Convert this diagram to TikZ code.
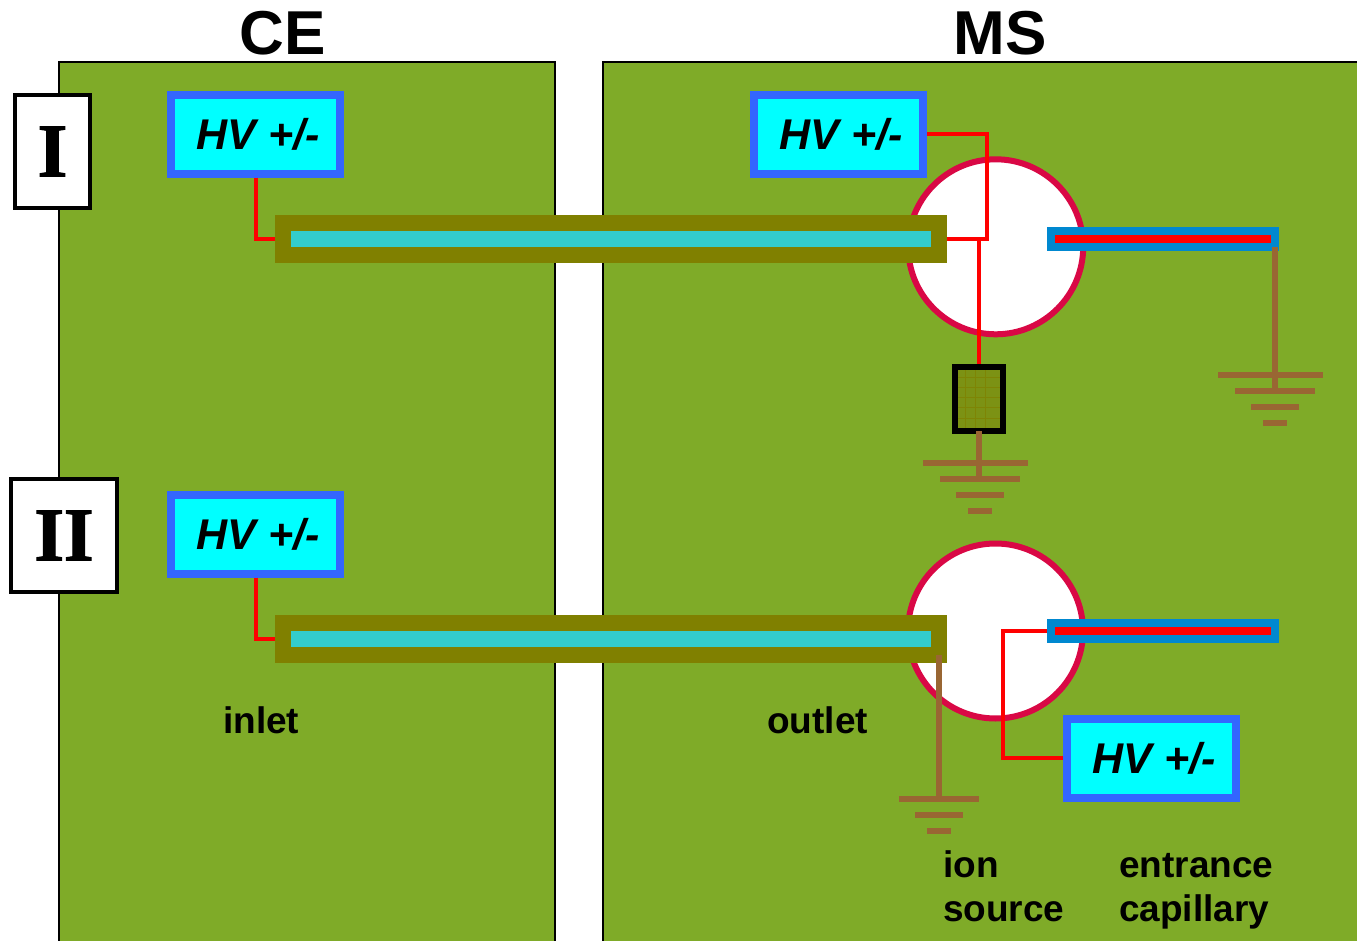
\documentclass[tikz,border=0pt]{standalone}
\usepackage{fontspec}
\setmainfont{Liberation Sans}
\newfontfamily\serifb{Liberation Serif Bold}[FakeBold=1.5]
\definecolor{panelg}{HTML}{7FAB28}
\definecolor{hvblue}{HTML}{3366FF}
\definecolor{hvfill}{HTML}{00FFFF}
\definecolor{capblue}{HTML}{0088D0}
\definecolor{olivec}{HTML}{808000}
\definecolor{cyanc}{HTML}{33CCCC}
\definecolor{ringc}{HTML}{D90845}
\definecolor{earth}{HTML}{996633}
\definecolor{wirered}{HTML}{FF0000}
\definecolor{resfill}{HTML}{7C9214}
\definecolor{resgrid}{HTML}{808000}
\newcommand{\hvtext}{\hspace*{5pt}HV +/-}
\tikzset{
  panel/.style={draw=black,line width=2pt,fill=panelg},
  hvbox/.style={draw=hvblue,fill=hvfill,line width=8pt,minimum width=169pt,minimum height=78.5pt,inner sep=0pt,
    font=\fontsize{43}{43}\selectfont\bfseries\itshape,text=black},
  fused/.style={draw=olivec,fill=cyanc,line width=16pt,minimum width=656pt,minimum height=32pt,inner sep=0pt},
  entrycap/.style={draw=capblue,fill=wirered,line width=8pt,minimum width=224pt,minimum height=16pt,inner sep=0pt},
  ring/.style={circle,draw=ringc,fill=white,line width=6pt,minimum size=175pt,inner sep=0pt,outer sep=0pt},
  wire/.style={draw=wirered,line width=4pt,line join=miter},
  earthline/.style={draw=earth,line width=6pt},
  title/.style={font=\fontsize{62}{62}\selectfont\bfseries,inner sep=0pt},
  roman/.style={draw=black,fill=white,line width=3.6pt,inner sep=0pt,font=\fontsize{76}{76}\serifb},
  caption/.style={font=\fontsize{37}{44}\selectfont\bfseries,inner sep=0pt,anchor=base west,align=left},
  resistor/.style={draw=black,line width=6pt,fill=resfill,minimum width=48pt,minimum height=64pt,inner sep=0pt},
}
\begin{document}
\begin{tikzpicture}[x=1pt,y=-1pt]
\useasboundingbox (0,0) rectangle (1357,941);
\clip (0,0) rectangle (1357,941);
% panels
\path[panel] (59,975) -- (59,62.5) -- (555,62.5) -- (555,975);
\path[panel] (603,975) -- (603,62.5) -- (1380,62.5) -- (1380,975);
% titles
\node[title] (ce) at (282.5,33) {CE};
\node[title] (ms) at (1000,33) {MS};
% roman labels
\node[roman,minimum width=75pt,minimum height=113pt] (rI) at (52.5,151.5) {\raisebox{-2pt}{I}};
\node[roman,minimum width=106pt,minimum height=113pt] (rII) at (64,535.5) {\raisebox{-2pt}{II}};
% ion source spheres
\node[ring] (ringA) at (995.7,246.8) {};
\node[ring] (ringB) at (995.5,631) {};
% entrance capillaries
\node[entrycap] (capA) at (1163,239) {};
\node[entrycap] (capB) at (1163,631) {};
% separation capillaries
\node[fused] (fusedA) at (611,239) {};
\node[fused] (fusedB) at (611,639) {};
% HV supplies
\node[hvbox] (hvA) at (255.5,134.4) {\hvtext};
\node[hvbox] (hvB) at (838.5,134.4) {\hvtext};
\node[hvbox] (hvC) at (255.5,534.4) {\hvtext};
\node[hvbox] (hvD) at (1151.5,758.4) {\hvtext};
% resistor
\node[resistor] (res) at (979,399) {};
\draw[resgrid,line width=0.6pt,opacity=.7]
  (965,370)--(965,428) (975,370)--(975,428) (985,370)--(985,428)
  (958,377)--(1000,377) (958,387)--(1000,387) (958,397)--(1000,397) (958,407)--(1000,407) (958,418)--(1000,418);
\draw[black,line width=6pt] (955,367) rectangle (1003,431);
% wires
\path[wire] (hvA.south) |- (fusedA.west);
\path[wire] (hvC.south) |- (fusedB.west);
\coordinate (jA) at (987,239);
\path[wire] (hvB.east) -| (jA) -- (fusedA.east);
\coordinate (jB) at (979,239);
\path[wire] (jB) -- (res.north);
\coordinate (jC) at (1003,631);
\path[wire] (capB.west) -- (jC) |- (hvD.west);
% grounds
\coordinate (gA) at (979,431);
\coordinate (gAe) at (979,482);
\coordinate (gB) at (1275,247);
\coordinate (gBe) at (1275,394);
\coordinate (gC) at (939,655);
\coordinate (gCe) at (939,799);
\path[earthline] (gA) -- (gAe);
\path[earthline] (923,463)--(1028,463) (940,479)--(1020,479) (956,495)--(1004,495) (968,511)--(992,511);
\path[earthline] (gB) -- (gBe);
\path[earthline] (1218,375)--(1323,375) (1235,391)--(1315,391) (1251,407)--(1299,407) (1263,423)--(1287,423);
\path[earthline] (gC) -- (gCe);
\path[earthline] (899,799)--(979,799) (915,815)--(963,815) (927,831)--(951,831);
% captions
\node[caption] (inlet) at (223,733) {inlet};
\node[caption] (outlet) at (767,733) {outlet};
\node[caption] (ion) at (943,877) {ion};
\node[caption] (source) at (943,921) {source};
\node[caption] (entr) at (1119,877) {entrance};
\node[caption] (capl) at (1119,921) {capillary};
\end{tikzpicture}
\end{document}
